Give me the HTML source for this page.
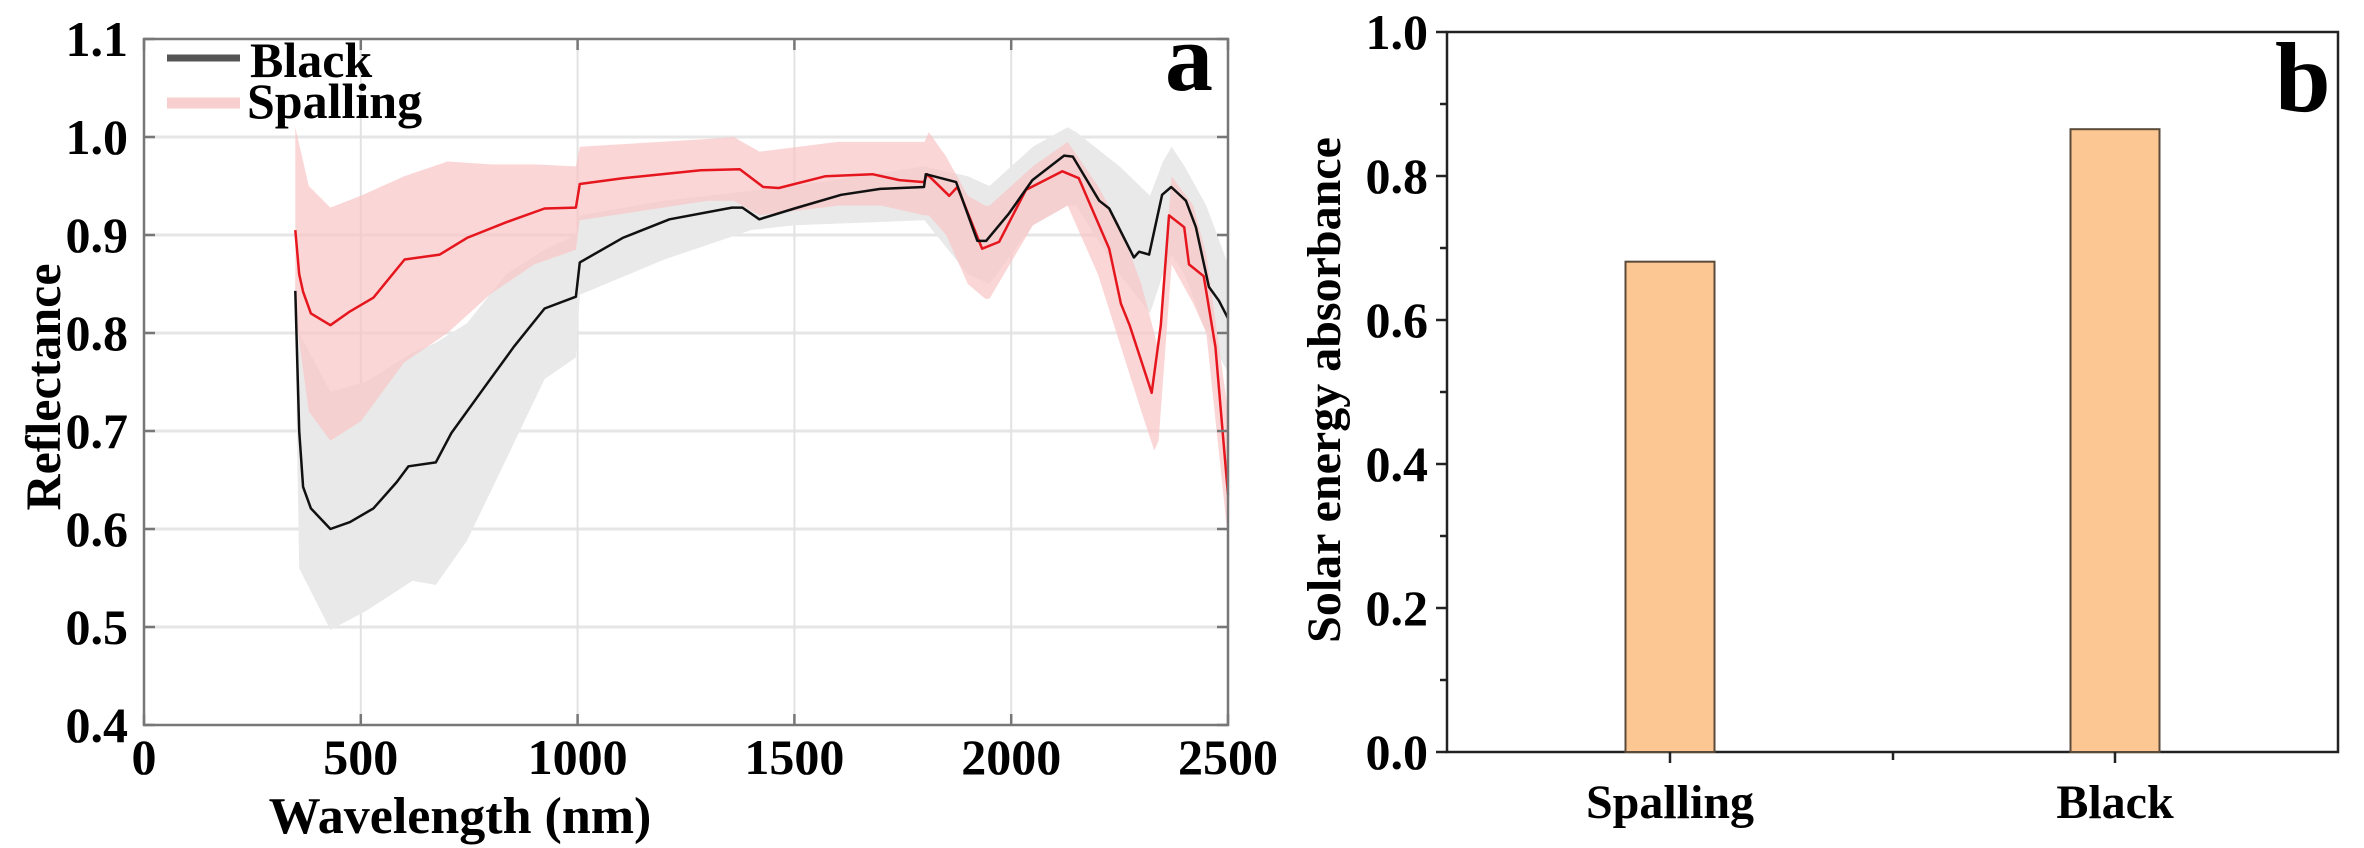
<!DOCTYPE html>
<html><head><meta charset="utf-8"><style>
html,body{margin:0;padding:0;background:#fff;}
svg{display:block;font-family:"Liberation Serif",serif;font-weight:bold;}
</style></head><body>
<svg id="fig" width="2364" height="848" viewBox="0 0 2364 848" xmlns="http://www.w3.org/2000/svg">
<g id="chartA"></g>
<g id="chartB"></g>
</svg>
<script>
// ---- Chart a data ----
const blackWl = [349,358,367,385,430,475,529,583,610,673,709,781,853,924,996,1005,1104,1212,1356,1380,1419,1500,1608,1698,1799,1803,1873,1922,1942,1995,2049,2122,2142,2203,2226,2283,2295,2318,2348,2369,2403,2426,2456,2479,2500];
const blackVal = [0.843,0.70,0.643,0.621,0.600,0.607,0.621,0.648,0.664,0.668,0.698,0.742,0.786,0.825,0.837,0.872,0.897,0.916,0.928,0.928,0.916,0.927,0.941,0.947,0.949,0.962,0.954,0.894,0.894,0.922,0.956,0.981,0.980,0.935,0.927,0.877,0.883,0.880,0.941,0.949,0.935,0.908,0.847,0.833,0.815];
const redWl = [349,358,367,385,430,475,529,601,682,745,835,924,996,1005,1104,1284,1374,1428,1464,1572,1680,1742,1799,1806,1857,1876,1933,1972,2034,2118,2156,2226,2253,2273,2324,2345,2364,2399,2410,2444,2471,2500];
const redVal = [0.905,0.86,0.842,0.820,0.808,0.822,0.836,0.875,0.880,0.897,0.913,0.927,0.928,0.952,0.958,0.966,0.967,0.949,0.948,0.960,0.962,0.956,0.954,0.962,0.940,0.949,0.886,0.893,0.946,0.965,0.958,0.886,0.830,0.808,0.739,0.808,0.920,0.908,0.870,0.858,0.786,0.635];
const greyBandWl = [349,358,430,511,619,673,745,835,924,996,1005,1200,1400,1500,1800,1900,1950,2050,2130,2150,2250,2320,2350,2370,2400,2450,2500];
const greyUpper = [0.86,0.80,0.74,0.75,0.78,0.79,0.81,0.86,0.885,0.90,0.92,0.935,0.945,0.95,0.97,0.96,0.95,0.99,1.01,1.005,0.97,0.94,0.975,0.99,0.97,0.93,0.87];
const greyLower = [0.80,0.56,0.497,0.516,0.547,0.543,0.588,0.671,0.753,0.775,0.839,0.875,0.905,0.91,0.915,0.86,0.85,0.91,0.93,0.93,0.86,0.82,0.86,0.88,0.86,0.80,0.76];
const pinkBandWl = [349,380,430,500,600,700,800,900,996,1005,1300,1360,1420,1600,1700,1800,1810,1850,1900,1940,1950,2050,2130,2200,2250,2300,2330,2340,2370,2420,2450,2500];
const pinkUpper = [1.01,0.95,0.928,0.94,0.96,0.975,0.972,0.972,0.97,0.99,0.998,1.0,0.985,0.995,0.995,0.995,1.005,0.98,0.94,0.93,0.93,0.97,0.995,0.95,0.91,0.85,0.80,0.78,0.96,0.93,0.88,0.72];
const pinkLower = [0.82,0.72,0.69,0.71,0.77,0.80,0.84,0.87,0.885,0.915,0.935,0.935,0.92,0.93,0.93,0.92,0.92,0.90,0.85,0.835,0.835,0.91,0.93,0.86,0.79,0.72,0.68,0.69,0.87,0.83,0.80,0.59];
const aYTicks = [0.4,0.5,0.6,0.7,0.8,0.9,1.0,1.1];
const aYTickLabels = ["0.4","0.5","0.6","0.7","0.8","0.9","1.0","1.1"];
const aXTicks = [0,500,1000,1500,2000,2500];
const aXTickLabels = ["0","500","1000","1500","2000","2500"];
// ---- Chart b data ----
const bCategories = ["Spalling","Black"];
const bValues = [0.681,0.865];
const bYTicks = [0.0,0.2,0.4,0.6,0.8,1.0];
const bYTickLabels = ["0.0","0.2","0.4","0.6","0.8","1.0"];

const NS="http://www.w3.org/2000/svg";
function mk(parent,tag,attrs,text){const e=document.createElementNS(NS,tag);for(const k in attrs)e.setAttribute(k,attrs[k]);if(text!==undefined)e.textContent=text;parent.appendChild(e);return e;}

// Chart a axes
const aL=144,aR=1228,aT=39,aB=725;
const ax=v=>aL+(v-0)/2500*(aR-aL);
const ay=v=>aB-(v-0.4)/0.7*(aB-aT);
const A=document.getElementById('chartA');
// grid
aYTicks.forEach((t,i)=>{
  if(i>0&&i<aYTicks.length-1){const g=mk(A,'line',{x1:aL,x2:aR,y1:ay(t),y2:ay(t),stroke:'#e6e6e6','stroke-width':3});
  
  }
});
aXTicks.forEach((t,i)=>{
  if(i>0&&i<aXTicks.length-1){const g=mk(A,'line',{x1:ax(t),x2:ax(t),y1:aT,y2:aB,stroke:'#e2e2e2','stroke-width':2});
  
  }
});
function bandPath(wl,up,lo){let d='M'+wl.map((w,i)=>ax(w).toFixed(1)+','+ay(up[i]).toFixed(1)).join('L');
  for(let i=wl.length-1;i>=0;i--)d+='L'+ax(wl[i]).toFixed(1)+','+ay(lo[i]).toFixed(1);return d+'Z';}
function linePath(wl,v){return 'M'+wl.map((w,i)=>ax(w).toFixed(1)+','+ay(v[i]).toFixed(1)).join('L');}
const gb=mk(A,'path',{d:bandPath(greyBandWl,greyUpper,greyLower),fill:'#e9e9e9'});


const pb=mk(A,'path',{d:bandPath(pinkBandWl,pinkUpper,pinkLower),fill:'#f9c4c4','fill-opacity':0.7});


const rl=mk(A,'path',{d:linePath(redWl,redVal),fill:'none',stroke:'#e5161e','stroke-width':2.5,'stroke-linejoin':'round'});


const bl=mk(A,'path',{d:linePath(blackWl,blackVal),fill:'none',stroke:'#111','stroke-width':2.5,'stroke-linejoin':'round'});


// frame
const fa=mk(A,'rect',{x:aL,y:aT,width:aR-aL,height:aB-aT,fill:'none',stroke:'#777','stroke-width':2.5});


aYTicks.forEach((t,i)=>{
  mk(A,'line',{x1:aL,x2:aL+11,y1:ay(t),y2:ay(t),stroke:'#777','stroke-width':2.5});
  mk(A,'line',{x1:aR-11,x2:aR,y1:ay(t),y2:ay(t),stroke:'#777','stroke-width':2.5});
  const l=mk(A,'text',{x:128,y:ay(t)+17,'text-anchor':'end','font-size':50},aYTickLabels[i]);
  
  
});
aXTicks.forEach((t,i)=>{
  mk(A,'line',{x1:ax(t),x2:ax(t),y1:aB-11,y2:aB,stroke:'#777','stroke-width':2.5});
  mk(A,'line',{x1:ax(t),x2:ax(t),y1:aT,y2:aT+11,stroke:'#777','stroke-width':2.5});
  const l=mk(A,'text',{x:ax(t),y:774,'text-anchor':'middle','font-size':50},aXTickLabels[i]);
  
  
});
</script>
<svg style="position:absolute;left:0;top:0" width="2364" height="848" xmlns="http://www.w3.org/2000/svg">
<g font-family="Liberation Serif, serif" font-weight="bold">
<text x="460" y="833" text-anchor="middle" font-size="52">Wavelength (nm)</text>
<text transform="translate(60,387) rotate(-90)" text-anchor="middle" font-size="50">Reflectance</text>
<line x1="167" y1="58" x2="240" y2="58" stroke="#555" stroke-width="7"/>
<text x="250" y="77" font-size="50">Black</text>
<line x1="167" y1="103" x2="240" y2="103" stroke="#f8cfcf" stroke-width="11"/>
<text x="247" y="118" font-size="50">Spalling</text>
<text x="1165" y="90" font-size="96">a</text>
<text x="2275" y="111" font-size="100">b</text>
<text transform="translate(1340,390) rotate(-90)" text-anchor="middle" font-size="48">Solar energy absorbance</text>
</g>
</svg>
<script>
(function(){
const B=document.getElementById('chartB');
const bL=1447,bR=2338,bT=32,bB=752;
const by=v=>bB-v*(bB-bT);
const catX=[1670,2115];
const bx=i=>bL+(i+0.5)*((bR-bL)/2)-(i===0?0:0);
const bw=89;
const fr=mk(B,'rect',{x:bL,y:bT,width:bR-bL,height:bB-bT,fill:'none',stroke:'#222','stroke-width':2.5});


bCategories.forEach((c,i)=>{
  const cx=bL+223+i*445;
  const r=mk(B,'rect',{x:cx-bw/2,y:by(bValues[i]),width:bw,height:bB-by(bValues[i]),fill:'#fdc794',stroke:'#5a4a3a','stroke-width':2});
  
  
  mk(B,'line',{x1:cx,x2:cx,y1:bB,y2:bB+11,stroke:'#222','stroke-width':2.5});
  const l=mk(B,'text',{x:cx,y:818,'text-anchor':'middle','font-size':48},c);
  
  
});
mk(B,'line',{x1:bL+446,x2:bL+446,y1:bB,y2:bB+8,stroke:'#222','stroke-width':2.5});
bYTicks.forEach((t,i)=>{
  mk(B,'line',{x1:bL-11,x2:bL,y1:by(t),y2:by(t),stroke:'#222','stroke-width':2.5});
  if(i<bYTicks.length-1) mk(B,'line',{x1:bL-7,x2:bL,y1:by(t+0.1),y2:by(t+0.1),stroke:'#222','stroke-width':2.5});
  const l=mk(B,'text',{x:1428,y:by(t)+17,'text-anchor':'end','font-size':50},bYTickLabels[i]);
  
  
});
})();
</script>
</body></html>
